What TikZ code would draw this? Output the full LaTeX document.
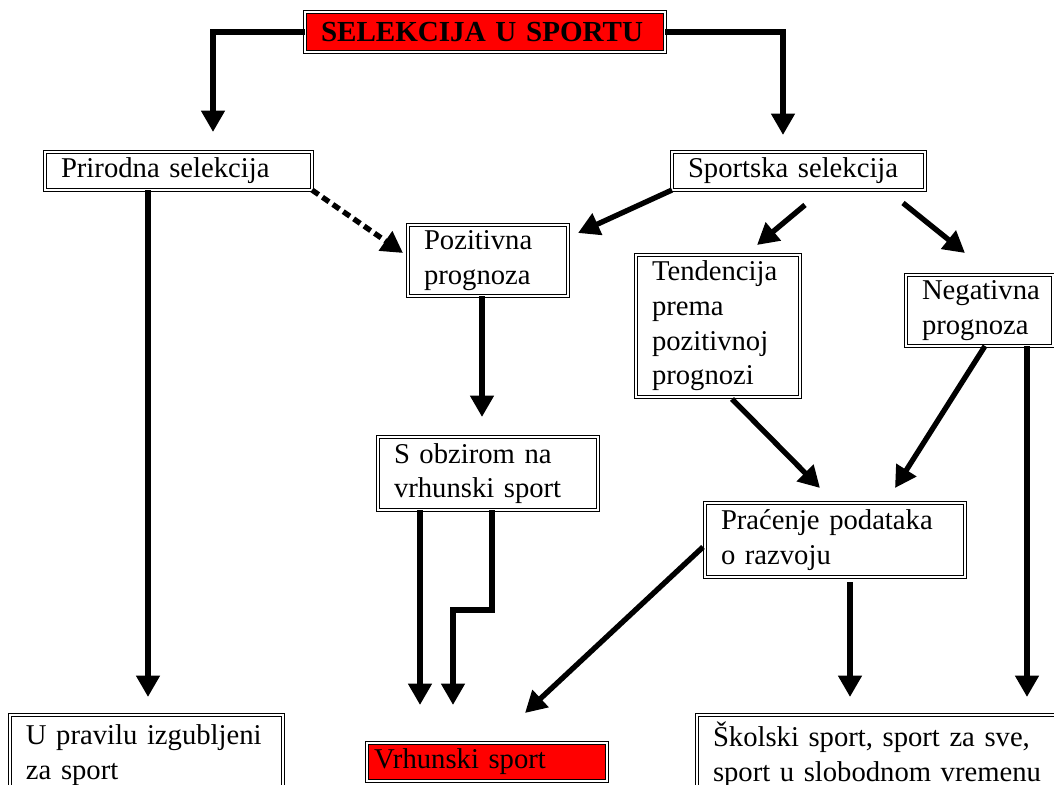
\documentclass[tikz,border=0pt]{standalone}
\usepackage{fontspec}
\setmainfont{Liberation Serif}
\usetikzlibrary{arrows.meta,calc}
\definecolor{boxred}{RGB}{255,0,0}
\begin{document}
\begin{tikzpicture}[x=0.75pt,y=-0.75pt,
  box/.style={draw, double, line width=0.8pt, double distance=1.1pt, fill=white,
    anchor=north west, align=left, inner xsep=12pt, inner ysep=0pt, outer sep=0pt,
    font=\fontsize{21.5}{26}\selectfont},
  arr/.style={line width=4pt, -{Triangle[width=17pt,length=16pt]}},
  dotarr/.style={arr, dash pattern=on 6pt off 3.5pt}]
\useasboundingbox (0,0) rectangle (1054,785);

\node[box, fill=boxred, font=\fontsize{21.8}{26}\selectfont\bfseries, minimum width=270pt, minimum height=30pt, text width=246pt] (title) at (305,12) {\mbox{SELEKCIJA U SPORTU}};
\node[box, minimum width=200.25pt, minimum height=28.5pt, text width=176.25pt] (prir) at (45,152) {\mbox{Prirodna selekcija}};
\node[box, minimum width=189.75pt, minimum height=28.5pt, text width=165.75pt] (spor) at (672,152) {\mbox{Sportska selekcija}};
\node[box, minimum width=120pt, minimum height=53.25pt, text width=96pt] (poz) at (408,225) {\mbox{Pozitivna}\\\mbox{prognoza}};
\node[box, minimum width=123pt, minimum height=106.5pt, text width=99pt] (tend) at (636,255) {\mbox{Tendencija}\\\mbox{prema}\\\mbox{pozitivnoj}\\\mbox{prognozi}};
\node[box, minimum width=110.25pt, minimum height=53.25pt, text width=86.25pt] (neg) at (906,275) {\mbox{Negativna}\\\mbox{prognoza}};
\node[box, minimum width=165pt, minimum height=54.75pt, text width=141pt] (sob) at (378,437) {\mbox{S obzirom na}\\\mbox{vrhunski sport}};
\node[box, minimum width=195pt, minimum height=55.5pt, text width=171pt] (prac) at (705,503) {\mbox{Praćenje podataka}\\\mbox{o razvoju}};
\node[box, minimum width=204.75pt, minimum height=60pt, text width=180.75pt] (upr) at (10,715) {\mbox{U pravilu izgubljeni}\\\mbox{za sport}};
\node[box, fill=boxred, inner xsep=5.25pt, minimum width=180pt, minimum height=28.5pt, text width=169.5pt] (vrh) at (367,743) {\mbox{Vrhunski sport}};
\node[box, minimum width=273.75pt, minimum height=60pt, text width=249.75pt] (skol) at (697,715) {\mbox{Školski sport, sport za sve,}\\\mbox{sport u slobodnom vremenu}};

\draw[arr] (title.west) -| ($(prir.north west)+(168,-20)$);
\draw[arr] (title.east) -| ($(spor.north west)+(111,-17)$);
\draw[arr] ($(prir.south west)+(103,0)$) -- ($(upr.north west)+(138,-18)$);
\draw[dotarr] (prir.south east) -- ($(poz.north west)+(-5,28)$);
\draw[arr] (spor.south west) -- ($(poz.north east)+(10,8)$);
\draw[arr] ($(spor.south west)+(133,15)$) -- ($(tend.north west)+(121,-10)$);
\draw[arr] ($(spor.south east)+(-22,13)$) -- ($(neg.north west)+(59,-22)$);
\draw[arr] ($(poz.south west)+(74,0)$) -- ($(sob.north west)+(104,-20)$);
\draw[arr] ($(tend.south west)+(96,2)$) -- ($(prac.north west)+(115,-15)$);
\draw[arr] ($(neg.south west)+(79,0)$) -- ($(prac.north west)+(190,-15)$);
\draw[arr] ($(neg.south west)+(121,0)$) -- ($(skol.north west)+(330,-18)$);
\draw[arr] ($(sob.south west)+(42,0)$) -- ($(vrh.north west)+(53,-38)$);
\draw[arr] ($(sob.south west)+(114,0)$) -- ++(0,100) -| ($(vrh.north west)+(86,-38)$);
\draw[arr] ($(prac.north west)+(-2,44)$) -- ($(vrh.north west)+(158,-30)$);
\draw[arr] ($(prac.south west)+(145,5)$) -- ($(skol.north west)+(153,-18)$);
\end{tikzpicture}
\end{document}
